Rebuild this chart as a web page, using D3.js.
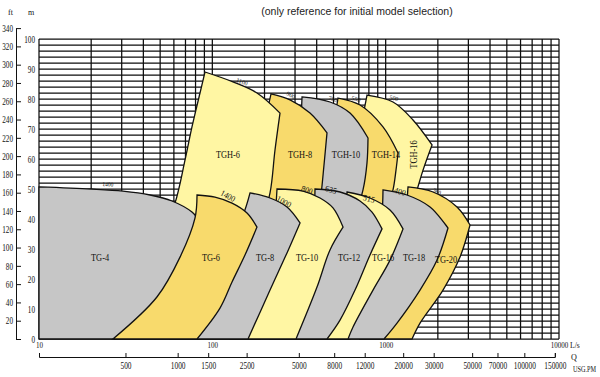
<!DOCTYPE html>
<html><head><meta charset="utf-8">
<script src="https://cdn.jsdelivr.net/npm/d3@7"></script>
<style>
html,body{margin:0;padding:0;background:#fff;}
svg{display:block;}
</style></head>
<body><svg id="c" width="600" height="377"></svg>
<script>
// ---------------- data ----------------
const title = "(only reference for initial model selection)";
const flowTicksLs = [10, 100, 1000, 10000];
const flowTicksUsg = [500, 1000, 1500, 2500, 5000, 8000, 12000, 20000, 30000, 50000, 70000, 100000, 150000];
const headTicksM = [0, 10, 20, 30, 40, 50, 60, 70, 80, 90, 100];
const headTicksFt = [0, 20, 40, 60, 80, 100, 120, 140, 160, 180, 200, 220, 240, 260, 280, 300, 320, 340];

// pump envelopes: [flow L/s, head m]; each = [left edge, top edge (max impeller), right edge]
const TGH_6  = [[[27.4,0],[33.5,13],[49.9,33],[60.9,45.3],[69.6,59.7],[76.3,70.7],[84.9,82],[90.7,89]],
                [[90.7,89],[131.6,85.7],[181,82],[245.7,75.3]],
                [[245.7,75.3],[229.9,63],[215.2,48.7],[193.5,39.7],[144.4,26.3],[84.9,0]]];
const TGH_8  = [[[57,0],[84.9,19.7],[144.4,46.3],[176.3,59.7],[201.4,73],[218.1,81.7]],
                [[218.1,81.7],[280.6,79.7],[366,75.3],[458.7,68.7]],
                [[458.7,68.7],[440.8,58],[423.6,48],[407.1,41.3],[320.6,26.3],[188.4,0]]];
const TGH_10 = [[[144.4,0],[229.9,26.3],[280.6,46.3],[320.6,69.7],[329.2,80.7]],
                [[329.2,80.7],[477.3,79],[622.8,75.3],[790.9,67]],
                [[790.9,67],[780.4,58.7],[740.1,49.7],[665.6,41.3],[477.3,23],[320.6,0]]];
const TGH_14 = [[[215.2,0],[320.6,29.7],[418,56.3],[496.7,71.3],[530.9,80.3]],
                [[530.9,80.3],[711.2,78],[965.2,70.7],[1178.3,62]],
                [[1178.3,62],[1147.1,56.3],[1102.3,49.7],[991.3,41.3],[711.2,23],[477.3,0]]];
const TGH_16 = [[[320.6,0],[477.3,29.7],[622.8,56.3],[730.3,73],[780.4,81.3]],
                [[780.4,81.3],[1102.3,79],[1438,73],[1851.3,64.7]],
                [[1851.3,64.7],[1642.5,56.3],[1516.5,49.7],[1381.6,43],[991.3,23],[622.8,0]]];

const TG_4  = [[[10,0],[10,50.7]],
               [[10,50.7],[20,50],[30.5,49.3],[43.7,48],[58.5,46],[76.3,42.3],[84.9,39]],
               [[84.9,39],[72.4,27.3],[53.3,14],[29.3,0]]];
const TG_6  = [[[26.7,0],[47.9,14],[65.1,27.3],[79.4,40.3],[81.6,48]],
               [[81.6,48],[103.6,47.3],[129.9,45.3],[158.5,42],[181,37.3]],
               [[181,37.3],[154.3,28],[129.9,19],[110.7,10.3],[81.6,0]]];
const TG_8  = [[[65.1,0],[84.9,13],[118.3,29.7],[150.3,41.3],[165,48.7]],
               [[165,48.7],[215.2,47],[269.6,44],[320.6,38.7]],
               [[320.6,38.7],[269.6,28.7],[215.2,16.3],[160.6,0]]];
const TG_10 = [[[126.5,0],[165,16.3],[215.2,31.3],[229.9,41.3],[236.1,50]],
               [[236.1,50],[333.6,49.3],[418,47],[496.7,43.7],[567.5,37.3]],
               [[567.5,37.3],[477.3,29.7],[401.7,17.3],[303.9,0]]];
const TG_12 = [[[229.9,0],[299.9,16.3],[366,31.3],[386.1,41.3],[391.1,50]],
               [[391.1,50],[545.3,49],[711.2,46],[834.2,42.3],[952.6,36.7]],
               [[952.6,36.7],[812.1,28],[665.6,16.3],[545.3,6.3],[458.7,0]]];
const TG_16 = [[[366,0],[477.3,16.3],[567.5,31.3],[590.4,41.3],[598.4,49]],
               [[598.4,49],[812.1,47],[1059.3,43],[1258.9,36.7]],
               [[1258.9,36.7],[1059.3,26.3],[845.2,16.3],[648.2,4],[606.4,0]]];
const TG_18 = [[[510.1,0],[711.2,16.3],[903.3,31.3],[952.6,41.3],[965.2,49.7]],
               [[965.2,49.7],[1327.7,48],[1802.9,44],[2288.9,37]],
               [[2288.9,37],[1978.5,26.3],[1578.3,16.3],[1162.7,5.3],[978.1,0]]];
const TG_20 = [[[711.2,0],[868.3,13],[1132.3,29.7],[1293.3,41.3],[1345.6,50.7]],
               [[1345.6,50.7],[1876.1,49],[2579.7,44],[3066.3,38]],
               [[3066.3,38],[2685,27.3],[2142,16.3],[1578.3,5.3],[1419.1,0]]];

const tghNames = ["TGH-6", "TGH-8", "TGH-10", "TGH-14", "TGH-16"];
const tghEnvelopes = [TGH_6, TGH_8, TGH_10, TGH_14, TGH_16];
const tghSpeeds = ["1100", "900", "750", "550", "500"];
const tghSpeedAt = [[148.3,85.7],[284.4,81.3],[496.7,80],[674.5,80],[1117.1,80.3]];
const tghNameAt = [[123.1,61.3],[320.6,61.3],[590.4,61.3],[1004.5,61.3],[1457.3,61.5]];

const tgNames = ["TG-4", "TG-6", "TG-8", "TG-10", "TG-12", "TG-16", "TG-18", "TG-20"];
const tgEnvelopes = [TG_4, TG_6, TG_8, TG_10, TG_12, TG_16, TG_18, TG_20];
const tgSpeeds = ["1400", "1400", "1000", "800", "635", "515", "400", "360"];
const tgSpeedAt = [[25,51.6],[123.1,47.7],[259.1,45.8],[351.8,49.7],[483.7,49.8],[801.5,46.8],[1209.9,49.2],[1978.5,49.2]];
const tgNameAt = [[22.5,27],[98.2,27],[201.4,27],[351.8,27],[614.5,27],[965.2,27],[1457.3,27],[2229.1,26.3]];

// ---------------- styles ----------------
const GRAY = "#c6c6c6", LIGHT = "#fff6a3", DARK = "#f8da6c";
const tghFill = [LIGHT, DARK, GRAY, DARK, LIGHT];
const tgFill = [GRAY, DARK, GRAY, LIGHT, GRAY, LIGHT, GRAY, DARK];
const tghSpeedAngle = [20, 28, 16, 16, 16];
const tgSpeedAngle = [3, 28, 28, 20, 16, 14, 18, 22];
const tgSpeedSize = [6, 8.5, 8.5, 8.5, 8.5, 8.5, 8.5, 6];
const SERIF = "'Liberation Serif','Times New Roman',serif";
const INK = "#111";

// ---------------- scales ----------------
const FT = 0.3048, USG = 15.850323;
const x = d3.scaleLog().domain([10, 10000]).range([39, 559]);
const y = d3.scaleLinear().domain([0, 100]).range([339, 39]);
const yFt = d3.scaleLinear().domain([0, 340]).range([y(0), y(340 * FT)]);
const xUsg = d3.scaleLog().domain([10 * USG, 150000]).range([x(10), x(150000 / USG)]);

const svg = d3.select("#c");
svg.append("rect").attr("width", 600).attr("height", 377).attr("fill", "#fff");

function squeeze(sel, k) {
  sel.each(function () {
    const t = d3.select(this);
    const xx = +t.attr("x") || 0;
    t.attr("x", 0).attr("transform", `translate(${xx},0) scale(${k},1)`);
  });
}

// ---------------- grid ----------------
const grid = svg.append("g").attr("stroke", "#0d0d0d").attr("stroke-width", 1.25);
grid.selectAll("line.h").data(d3.range(0, 101, 2)).join("line")
  .attr("x1", x(10)).attr("x2", x(10000)).attr("y1", d => y(d)).attr("y2", d => y(d));
const vVals = [];
[10, 100, 1000].forEach(dec => { for (let k = 1; k < 10; k++) vVals.push(k * dec); });
vVals.push(10000);
grid.selectAll("line.v").data(vVals).join("line")
  .attr("x1", d => x(d)).attr("x2", d => x(d)).attr("y1", y(0)).attr("y2", y(100));

// ---------------- envelopes ----------------
const edge = d3.line().x(d => x(d[0])).y(d => y(d[1])).curve(d3.curveCatmullRom.alpha(0.5));
function envPath(edges) {
  return edges.map((e, i) => { const s = edge(e); return i ? s.replace(/^M/, "L") : s; }).join("") + "Z";
}
const env = svg.append("g").attr("stroke", INK).attr("stroke-width", 1.3).attr("stroke-linejoin", "miter");
// draw right-to-left so that each envelope overlaps its right neighbour
const order = [];
for (let i = tghEnvelopes.length - 1; i >= 0; i--) order.push([tghEnvelopes[i], tghFill[i]]);
order.push([tgEnvelopes[0], tgFill[0]]);
for (let i = tgEnvelopes.length - 1; i >= 1; i--) order.push([tgEnvelopes[i], tgFill[i]]);
env.selectAll("path").data(order).join("path").attr("d", d => envPath(d[0])).attr("fill", d => d[1]);

// ---------------- labels ----------------
const lab = svg.append("g").attr("font-family", SERIF).attr("fill", INK);
lab.selectAll("text.tgh").data(tghNames).join("text")
  .attr("text-anchor", "middle").attr("dy", "0.35em").attr("font-size", 9.5)
  .attr("transform", (d, i) => `translate(${x(tghNameAt[i][0])},${y(tghNameAt[i][1])}) rotate(${i === 4 ? -90 : 0}) scale(0.88,1)`)
  .text(d => d);
lab.selectAll("text.tg").data(tgNames).join("text")
  .attr("text-anchor", "middle").attr("dy", "0.35em").attr("font-size", 9.5)
  .attr("transform", (d, i) => `translate(${x(tgNameAt[i][0])},${y(tgNameAt[i][1])}) scale(0.88,1)`)
  .text(d => d);
lab.selectAll("text.tghs").data(tghSpeeds).join("text")
  .attr("text-anchor", "middle").attr("dy", "0.35em").attr("font-size", 6)
  .attr("transform", (d, i) => `translate(${x(tghSpeedAt[i][0])},${y(tghSpeedAt[i][1])}) rotate(${tghSpeedAngle[i]})`)
  .text(d => d);
lab.selectAll("text.tgs").data(tgSpeeds).join("text")
  .attr("text-anchor", "middle").attr("dy", "0.35em").attr("font-size", (d, i) => tgSpeedSize[i])
  .attr("transform", (d, i) => `translate(${x(tgSpeedAt[i][0])},${y(tgSpeedAt[i][1])}) rotate(${tgSpeedAngle[i]}) scale(0.92,1)`)
  .text(d => d);

// ---------------- axes ----------------
function styleAxis(g, size) {
  g.attr("font-family", SERIF).attr("font-size", size).attr("color", INK);
  g.selectAll("line,path").attr("stroke", INK);
  g.selectAll("text").attr("fill", INK);
}
const ftAxis = svg.append("g").attr("transform", "translate(16,0)")
  .call(d3.axisLeft(yFt).tickValues(headTicksFt).tickSize(-5).tickSizeOuter(0).tickPadding(3).tickFormat(d => d === 0 ? "" : d));
styleAxis(ftAxis, 10); squeeze(ftAxis.selectAll("text"), 0.72);

const mAxis = svg.append("g").attr("transform", `translate(${x(10)},0)`)
  .call(d3.axisLeft(y).tickValues(headTicksM).tickSize(0).tickPadding(4));
mAxis.select(".domain").remove();
styleAxis(mAxis, 10); squeeze(mAxis.selectAll("text"), 0.72);

const qAxis = svg.append("g").attr("transform", `translate(0,${y(0)})`)
  .call(d3.axisBottom(x).tickValues(flowTicksLs).tickSize(0).tickPadding(3).tickFormat(d3.format("d")));
qAxis.select(".domain").remove();
styleAxis(qAxis, 9); squeeze(qAxis.selectAll("text"), 0.78);

const uAxis = svg.append("g").attr("transform", "translate(0,357)")
  .call(d3.axisBottom(xUsg).tickValues(flowTicksUsg).tickSize(-4).tickSizeOuter(-4).tickPadding(5.5).tickFormat(d3.format("d")));
styleAxis(uAxis, 9.5); squeeze(uAxis.selectAll("text"), 0.78);

// unit labels
const units = svg.append("g").attr("font-family", SERIF).attr("fill", INK);
units.append("text").attr("x", 8).attr("y", 15).attr("font-size", 8).text("ft");
units.append("text").attr("x", 28).attr("y", 15).attr("font-size", 8).text("m");
units.append("text").attr("transform", "translate(570,348) scale(0.85,1)").attr("font-size", 9).text("L/s");
units.append("text").attr("transform", "translate(571,360) scale(0.9,1)").attr("font-size", 9).text("Q");
units.append("text").attr("transform", "translate(573,372) scale(0.78,1)").attr("font-size", 8).text("USG.PM");

// title
svg.append("text").attr("x", 357).attr("y", 15).attr("text-anchor", "middle")
  .attr("font-family", "'Liberation Sans',Arial,sans-serif").attr("font-size", 10.5).attr("fill", "#222")
  .text(title);
</script>
</body></html>
